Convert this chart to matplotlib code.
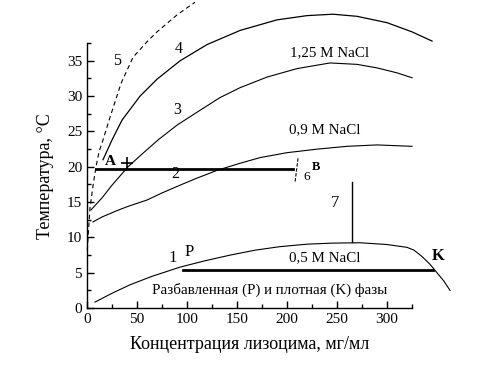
import matplotlib
matplotlib.use("Agg")
import matplotlib.pyplot as plt
from matplotlib.ticker import MultipleLocator

plt.rcParams['font.family'] = ['Liberation Serif', 'DejaVu Serif']

# Curve data (concentration mg/ml, temperature C)
c1_x = [8, 25, 43, 65, 93, 118, 143, 168, 193, 220, 245, 273, 300, 320, 327, 335, 343, 350, 357, 363]
c1_y = [0.85, 2.1, 3.3, 4.5, 5.8, 6.7, 7.5, 8.2, 8.7, 9.05, 9.2, 9.25, 9.0, 8.6, 8.2, 7.3, 6.2, 5.0, 3.8, 2.5]

c2_x = [6, 15, 30, 41, 60, 75, 93, 110, 130, 153, 173, 200, 230, 260, 290, 325]
c2_y = [12.2, 12.9, 13.8, 14.4, 15.3, 16.3, 17.4, 18.4, 19.5, 20.5, 21.3, 22.0, 22.5, 22.9, 23.1, 22.9]

c3_x = [4, 15, 25, 41, 55, 71, 90, 113, 133, 153, 180, 210, 243, 270, 290, 310, 325]
c3_y = [13.9, 15.6, 17.4, 20.0, 21.8, 23.8, 25.9, 28.0, 29.8, 31.2, 32.7, 33.9, 34.7, 34.5, 34.0, 33.3, 32.6]

c4_x = [16, 25, 35, 53, 70, 93, 120, 153, 190, 220, 246, 270, 300, 325, 345]
c4_y = [21.0, 23.8, 26.6, 30.0, 32.4, 35.0, 37.3, 39.3, 40.8, 41.4, 41.6, 41.3, 40.4, 39.1, 37.8]

c5_x = [0.3, 1.5, 3, 6, 9, 12, 16, 23, 34, 46, 60, 70, 90, 108]
c5_y = [8.2, 11.0, 14.2, 17.3, 20.0, 22.1, 23.8, 27.0, 31.8, 35.5, 37.7, 39.1, 41.5, 43.3]

ab_x = [9, 206]
ab_y = [19.7, 19.7]
pk_x = [96, 346]
pk_y = [5.4, 5.4]
line6_x = [211, 208]
line6_y = [21.2, 17.8]
line7_x = [265, 265]
line7_y = [9.3, 17.8]

xticks = [0, 50, 100, 150, 200, 250, 300]
yticks = [0, 5, 10, 15, 20, 25, 30, 35]

fig = plt.figure(figsize=(4.78, 3.69), dpi=100)
ax = fig.add_axes([0.182, 0.165, 0.680, 0.718])
ax.set_xlim(0, 325)
ax.set_ylim(0, 37.5)

k = 'black'
ax.plot(c1_x, c1_y, color=k, lw=0.8, clip_on=False)
ax.plot(c2_x, c2_y, color=k, lw=0.8, clip_on=False)
ax.plot(c3_x, c3_y, color=k, lw=0.8, clip_on=False)
ax.plot(c4_x, c4_y, color=k, lw=0.9, clip_on=False)
ax.plot(c5_x, c5_y, color=k, lw=0.8, ls=(0, (4, 3)), clip_on=False)
ax.plot(ab_x, ab_y, color=k, lw=2.0, clip_on=False)
ax.plot(pk_x, pk_y, color=k, lw=2.0, clip_on=False)
ax.plot(line6_x, line6_y, color=k, lw=0.8, ls=(0, (3, 1.5)), clip_on=False)
ax.plot(line7_x, line7_y, color=k, lw=1.0, clip_on=False)

ax.plot([40], [20.5], marker='+', color=k, ms=9, mew=1.2, clip_on=False)

ax.text(23, 19.9, 'A', fontsize=11, fontweight='bold', ha='center', va='bottom')
ax.text(220, 18.6, '6', fontsize=9.5, ha='center', va='center')
ax.text(229, 20.0, 'B', fontsize=9, fontweight='bold', ha='center', va='center')
ax.text(248, 14.9, '7', fontsize=12, ha='center', va='center')
ax.text(86, 7.1, '1', fontsize=12, ha='center', va='center')
ax.text(102, 7.9, 'P', fontsize=12, ha='center', va='center')
ax.text(351, 7.4, 'K', fontsize=12, fontweight='bold', ha='center', va='center', clip_on=False)
ax.text(88, 19.0, '2', fontsize=11.5, ha='center', va='center')
ax.text(90, 28.0, '3', fontsize=11.5, ha='center', va='center')
ax.text(92, 36.7, '4', fontsize=11.5, ha='center', va='center')
ax.text(30, 35.0, '5', fontsize=11.5, ha='center', va='center')
ax.text(243, 36.1, '1,25 M NaCl', fontsize=10.8, ha='center', va='center')
ax.text(238, 25.2, '0,9 M NaCl', fontsize=10.8, ha='center', va='center')
ax.text(238, 7.2, '0,5 M NaCl', fontsize=10.8, ha='center', va='center')
ax.text(183, 2.6, 'Разбавленная (P) и плотная (K) фазы', fontsize=10.8, ha='center', va='center')

for s in ['top', 'right']:
    ax.spines[s].set_visible(False)
for s in ['left', 'bottom']:
    ax.spines[s].set_linewidth(1.0)

ax.set_xticks(xticks)
ax.set_yticks(yticks)
ax.xaxis.set_minor_locator(MultipleLocator(25))
ax.yaxis.set_minor_locator(MultipleLocator(2.5))
ax.tick_params(which='major', direction='in', length=5, width=1, labelsize=11)
ax.tick_params(which='minor', direction='in', length=3, width=1)

ax.set_xlabel('Концентрация лизоцима, мг/мл', fontsize=13, labelpad=7)
ax.set_ylabel('Температура, °С', fontsize=13, labelpad=9)

fig.savefig('out.png', dpi=100)
